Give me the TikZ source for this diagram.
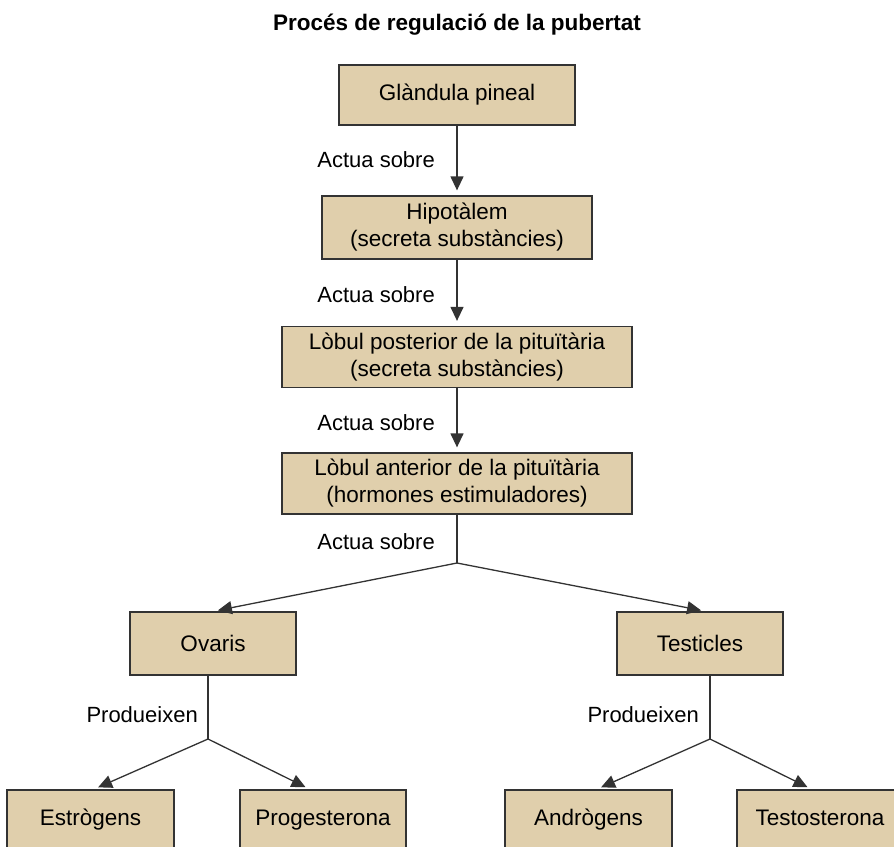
\documentclass[tikz,border=0pt]{standalone}
\usepackage{fontspec}
\setmainfont{Liberation Sans}
\usepackage{xcolor}
\usepackage{tikz}
\usetikzlibrary{arrows.meta}
\definecolor{pell}{RGB}{224,207,172}
\definecolor{vora}{RGB}{51,51,51}

\begin{document}
\begin{tikzpicture}[x=1pt,y=1pt]
						\tikzstyle{caixa}=[draw=vora,fill=pell,line width=1.3pt,align=center,inner sep=0pt,font=\fontsize{22.5}{27}\selectfont]
						\tikzstyle{final}=[caixa,minimum height=60pt,text height=16pt,text depth=5pt]
						\tikzstyle{etiqueta}=[anchor=east,inner sep=0pt,font=\fontsize{22}{25}\selectfont]
						\tikzstyle{fletxa}=[draw=vora,line width=1.3pt,-{Triangle[length=14pt,width=13pt]},shorten >=5pt]
						\tikzstyle{linia}=[draw=vora,line width=1.3pt]
						\clip (0,0) rectangle (894,-846);
						\fill[white] (0,0) rectangle (894,-846);
						\node[font=\fontsize{22.5}{25}\selectfont\bfseries](titol) at (457,-25) {Procés de regulació de la pubertat};
						\node[caixa,minimum width=236pt,minimum height=60pt](pineal) at (457,-95) {Glàndula pineal};
						\node[caixa,minimum width=270pt,minimum height=63pt](hipo) at (457,-227.5) {Hipotàlem\\(secreta substàncies)};
						\node[caixa,minimum width=350pt,minimum height=61pt](poste) at (457,-357) {Lòbul posterior de la pituïtària\\(secreta substàncies)};
						\node[caixa,minimum width=350pt,minimum height=61pt](ante) at (457,-483.5) {Lòbul anterior de la pituïtària\\(hormones estimuladores)};
						\node[caixa,minimum width=166pt,minimum height=63pt](ovaris) at (213,-643.5) {Ovaris};
						\node[caixa,minimum width=166pt,minimum height=63pt](testi) at (700,-643.5) {Testicles};
						\node[final,minimum width=167pt](estro) at (90.5,-820) {Estrògens};
						\node[final,minimum width=166pt](proges) at (323,-820) {Progesterona};
						\node[final,minimum width=167pt](andro) at (588.5,-820) {Andrògens};
						\node[final,minimum width=166pt](testo) at (820,-820) {Testosterona};
						\node[etiqueta](l1) at (435,-160) {Actua sobre};
						\node[etiqueta](l2) at (435,-295) {Actua sobre};
						\node[etiqueta](l3) at (435,-423) {Actua sobre};
						\node[etiqueta](l4) at (435,-542) {Actua sobre};
						\node[etiqueta](l5) at (198,-715) {Produeixen};
						\node[etiqueta](l6) at (699,-715) {Produeixen};
						\coordinate (j1) at (457,-563);
						\coordinate (j2) at (208,-739);
						\coordinate (j3) at (710,-739);
						\draw[fletxa](pineal) -- (hipo);
						\draw[fletxa](hipo) -- (poste);
						\draw[fletxa](poste) -- (ante);
						\draw[linia](ante) -- (j1);
						\draw[fletxa](j1) -- (ovaris.north);
						\draw[fletxa](j1) -- ([xshift=6pt]testi.north);
						\draw[linia](ovaris.south -| j2) -- (j2);
						\draw[linia](testi.south -| j3) -- (j3);
						\draw[fletxa](j2) -- ([xshift=3pt]estro.north);
						\draw[fletxa](j2) -- ([xshift=-13pt]proges.north);
						\draw[fletxa](j3) -- ([xshift=8pt]andro.north);
						\draw[fletxa](j3) -- ([xshift=-8pt]testo.north);
					\end{tikzpicture}
\end{document}
